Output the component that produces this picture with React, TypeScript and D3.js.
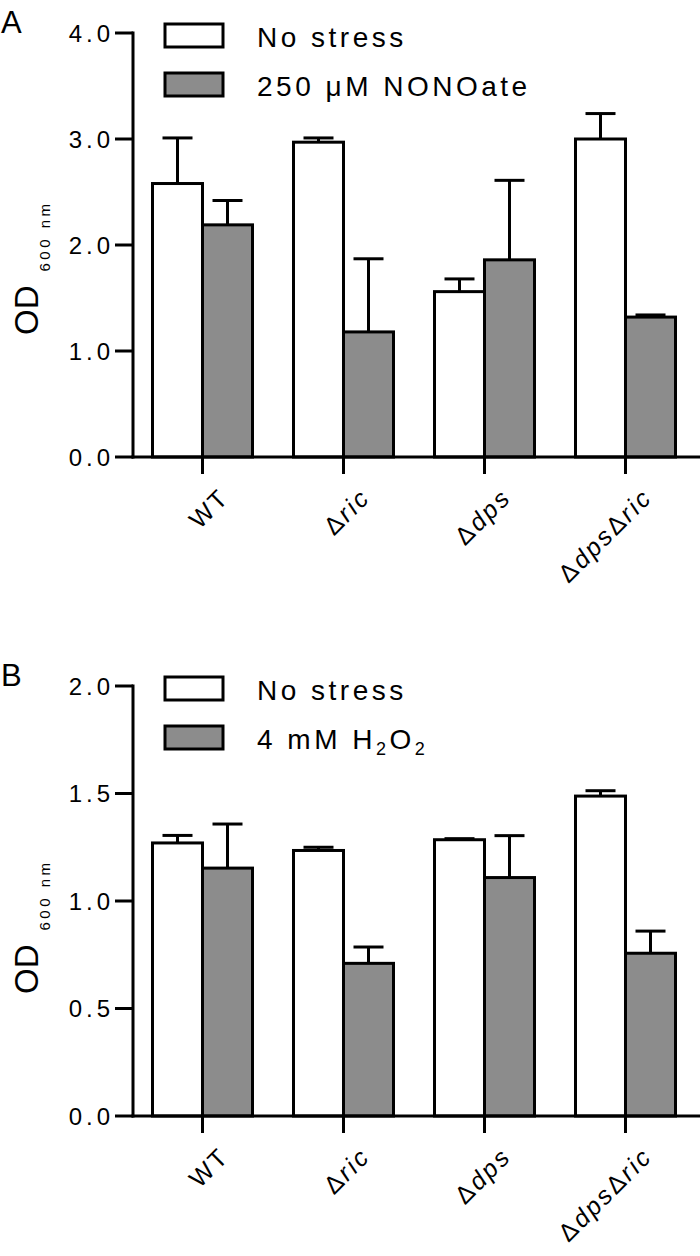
import React from "react";
import * as d3 from "d3";

// strains on the x axis (both panels)
const categories = ["WT", "Δric", "Δdps", "ΔdpsΔric"];

// panel A: NONOate
const legendA = ["No stress", "250 μM NONOate"];
const noStressA = [2.58, 2.97, 1.56, 3.0];
const noStressAErr = [0.43, 0.04, 0.12, 0.24];
const nonoateA = [2.19, 1.18, 1.86, 1.32];
const nonoateAErr = [0.23, 0.69, 0.75, 0.02];
const ticksA = [0, 1, 2, 3, 4];

// panel B: H2O2
const legendB = ["No stress", "4 mM H2O2"];
const noStressB = [1.27, 1.235, 1.285, 1.488];
const noStressBErr = [0.035, 0.015, 0.005, 0.025];
const h2o2B = [1.153, 0.71, 1.109, 0.757];
const h2o2BErr = [0.205, 0.076, 0.195, 0.103];
const ticksB = [0, 0.5, 1, 1.5, 2];

const FONT = "'Liberation Sans', Arial, sans-serif";
const GREY = "#8c8c8c";
const fills = ["#ffffff", GREY];

// italic gene names, upright delta
const strainLabel = (s) =>
  s.match(/Δ|[^Δ]+/g).map((part, i) => (
    <tspan key={i} fontStyle={part === "Δ" || s === "WT" ? "normal" : "italic"}>
      {part}
    </tspan>
  ));

// digits right after a capital letter become subscripts (H2O2)
const chemLabel = (s) =>
  s.split(/(?<=[A-Z])(\d)/).map((part, i) =>
    i % 2 === 1 ? (
      <tspan key={i} fontSize={18} dy={6}>
        {part}
      </tspan>
    ) : (
      <tspan key={i} dy={i > 0 ? -6 : 0}>
        {part}
      </tspan>
    )
  );

function Panel({ letter, zeroY, topY, yMax, ticks, values, errors, legend }) {
  const x = d3.scaleBand().domain(categories).range([132, 696]);
  const sub = d3.scaleBand().domain(["0", "1"]).range([-50, 50]);
  const y = d3.scaleLinear().domain([0, yMax]).range([zeroY, topY]);
  const axisX = 133;
  const cap = 15;

  return (
    <g fontFamily={FONT} fill="#000">
      <text x={1} y={topY} fontSize={31} letterSpacing={1}>
        {letter}
      </text>

      {/* legend */}
      {legend.map((label, i) => (
        <g key={label} transform={`translate(0,${topY - 9 + i * 49})`}>
          <rect x={165} y={0} width={58} height={23} fill={fills[i]} stroke="#000" strokeWidth={3} />
          <text x={257} y={23} fontSize={28} letterSpacing={3.5}>
            {chemLabel(label)}
          </text>
        </g>
      ))}

      {/* bars with upward error bars */}
      {categories.map((c, ci) => {
        const cx = x(c) + x.bandwidth() / 2;
        return values.map((series, si) => {
          const v = series[ci];
          const e = errors[si][ci];
          const bx = cx + sub(String(si));
          const mid = bx + sub.bandwidth() / 2;
          return (
            <g key={c + si}>
              <line x1={mid} x2={mid} y1={y(v)} y2={y(v + e)} stroke="#000" strokeWidth={3} />
              <line x1={mid - cap} x2={mid + cap} y1={y(v + e)} y2={y(v + e)} stroke="#000" strokeWidth={3} />
              <rect
                x={bx}
                y={y(v)}
                width={sub.bandwidth()}
                height={zeroY - y(v)}
                fill={fills[si]}
                stroke="#000"
                strokeWidth={3}
              />
            </g>
          );
        });
      })}

      {/* y axis */}
      <line x1={axisX} x2={axisX} y1={topY - 1.5} y2={zeroY + 1.5} stroke="#000" strokeWidth={3} />
      {ticks.map((t) => (
        <g key={t}>
          <line x1={axisX - 18} x2={axisX} y1={y(t)} y2={y(t)} stroke="#000" strokeWidth={3} />
          <text
            x={114}
            y={y(t)}
            dy="0.36em"
            fontSize={24}
            letterSpacing={4}
            textAnchor="end"
          >
            {t.toFixed(1)}
          </text>
        </g>
      ))}
      <text transform={`translate(38,${zeroY - 122}) rotate(-90)`} fontSize={33}>
        OD
        <tspan fontSize={15} dx={14} dy={12} letterSpacing={3.5}>
          600 nm
        </tspan>
      </text>

      {/* x axis */}
      <line x1={axisX - 1.5} x2={700} y1={zeroY} y2={zeroY} stroke="#000" strokeWidth={3} />
      {categories.map((c) => {
        const cx = x(c) + x.bandwidth() / 2;
        return (
          <g key={c}>
            <line x1={cx} x2={cx} y1={zeroY} y2={zeroY + 17} stroke="#000" strokeWidth={3} />
            <text
              transform={`translate(${cx + 28},${zeroY + 42}) rotate(-45)`}
              fontSize={25}
              letterSpacing={2.5}
              textAnchor="end"
            >
              {strainLabel(c)}
            </text>
          </g>
        );
      })}
    </g>
  );
}

export default function App() {
  return (
    <svg
      width={700}
      height={1256}
      style={{ position: "absolute", left: 0, top: 0, background: "#fff" }}
    >
      <rect width={700} height={1256} fill="#fff" />
      <Panel
        letter="A"
        zeroY={457}
        topY={33}
        yMax={4}
        ticks={ticksA}
        values={[noStressA, nonoateA]}
        errors={[noStressAErr, nonoateAErr]}
        legend={legendA}
      />
      <Panel
        letter="B"
        zeroY={1116}
        topY={686}
        yMax={2}
        ticks={ticksB}
        values={[noStressB, h2o2B]}
        errors={[noStressBErr, h2o2BErr]}
        legend={legendB}
      />
    </svg>
  );
}
